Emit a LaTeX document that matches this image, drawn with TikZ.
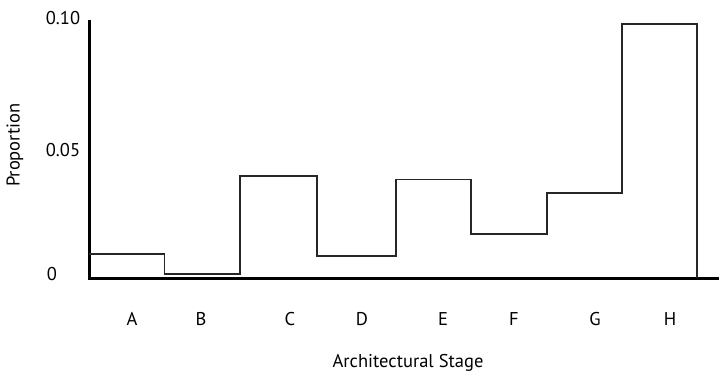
\documentclass[tikz,border=0pt]{standalone}
\usepackage{fontspec}
\setmainfont{PT Sans}
\begin{document}
\begin{tikzpicture}[x=1pt,y=-1pt,
  lbl/.style={font=\fontsize{18.5}{20}\selectfont, inner sep=0pt},
  axisline/.style={line width=3pt},
  stepline/.style={line width=1.7pt, color=black!85, line join=miter}]
\useasboundingbox (0,0) rectangle (719,374);
% axes
\coordinate (O) at (89.3,278.7);
\coordinate (ytop) at (89.3,20.5);
\coordinate (xend) at (719,278.7);
\draw[axisline] (ytop) -- (O) -- (xend);
% step line
\draw[stepline] (89.3,254) -- (164.5,254) -- (164.5,274) -- (240.3,274) -- (240.3,176)
  -- (316.7,176) -- (316.7,256) -- (395.7,256) -- (395.7,179.5) -- (471.3,179.5)
  -- (471.3,234) -- (546.7,234) -- (546.7,193.3) -- (622,193.3) -- (622,24.3)
  -- (696.7,24.3) -- (696.7,278);
% y tick labels
\node[lbl] (t10) at (63,18) {0.10};
\node[lbl] (t05) at (63,150.5) {0.05};
\node[lbl] (t0) at (52,274) {0};
\node[lbl, rotate=90] (ylab) at (15,145) {Proportion};
% x labels
\node[lbl] (A) at (132,319) {A};
\node[lbl] (B) at (201,319) {B};
\node[lbl] (C) at (290,319) {C};
\node[lbl] (D) at (362,319) {D};
\node[lbl] (E) at (443,319) {E};
\node[lbl] (F) at (514,319) {F};
\node[lbl] (G) at (595,319) {G};
\node[lbl] (H) at (670,319) {H};
\node[lbl] (xlab) at (408,363) {Architectural Stage};
\end{tikzpicture}
\end{document}
